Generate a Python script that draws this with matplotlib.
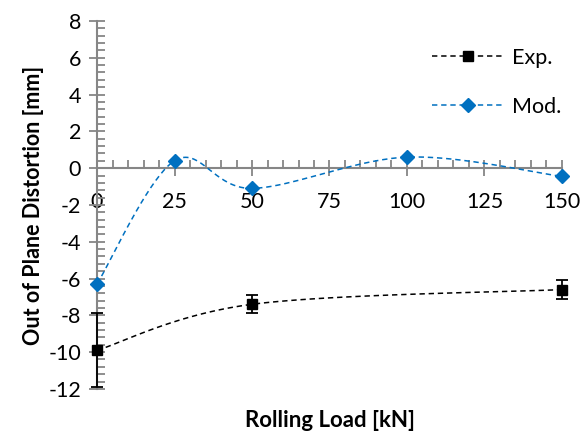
import numpy as np
import matplotlib
matplotlib.use('Agg')
import matplotlib.pyplot as plt
from matplotlib.ticker import MultipleLocator

plt.rcParams['font.family'] = ['Lato', 'DejaVu Sans']
plt.rcParams['axes.unicode_minus'] = False

# Measured and modelled out-of-plane distortion vs rolling load
exp_load = [0, 50, 150]
exp_dist = [-9.9, -7.4, -6.6]
exp_err = [2.0, 0.5, 0.5]

mod_load = [0, 25, 50, 100, 150]
mod_dist = [-6.3, 0.4, -1.1, 0.6, -0.45]

x_ticks = [0, 25, 50, 75, 100, 125, 150]
y_ticks = [-12, -10, -8, -6, -4, -2, 0, 2, 4, 6, 8]

axis_grey = '#868686'
blue = '#0070C0'


def smooth(xs, ys, n=40):
    # spreadsheet style smoothed line: cubic bezier with 1/6 tangent handles
    p = np.column_stack([xs, ys]).astype(float)
    p = np.vstack([p[0], p, p[-1]])
    out = []
    for i in range(1, len(p) - 2):
        p0, p1, p2, p3 = p[i - 1], p[i], p[i + 1], p[i + 2]
        c1 = p1 + (p2 - p0) / 6.0
        c2 = p2 - (p3 - p1) / 6.0
        t = np.linspace(0, 1, n)[:, None]
        seg = ((1 - t) ** 3) * p1 + 3 * ((1 - t) ** 2) * t * c1 \
            + 3 * (1 - t) * t ** 2 * c2 + t ** 3 * p2
        out.append(seg)
    out = np.vstack(out)
    return out[:, 0], out[:, 1]


fig = plt.figure(figsize=(5.82, 4.37), dpi=100)
ax = fig.add_axes([0.1667, 0.110, 0.7989, 0.842])

# smoothed dashed connectors
sx, sy = smooth(exp_load, exp_dist)
ax.plot(sx, sy, color='black', lw=1.1, dashes=(3.5, 2.5), zorder=3)
sx, sy = smooth(mod_load, mod_dist)
ax.plot(sx, sy, color=blue, lw=1.1, dashes=(3.5, 2.5), zorder=3)

ax.errorbar(exp_load, exp_dist, yerr=exp_err, fmt='none', ecolor='black',
            elinewidth=1.3, capsize=4, capthick=1.3, zorder=4, clip_on=False)
ax.plot(exp_load, exp_dist, 's', color='black', ms=7.5, zorder=5, clip_on=False)
ax.plot(mod_load, mod_dist, 'D', color=blue, ms=7, zorder=5, clip_on=False)

# legend handles
ax.plot([], [], color='black', lw=1.1, dashes=(3.5, 2.5), marker='s', ms=7.5,
        label='Exp.')
ax.plot([], [], color=blue, lw=1.1, dashes=(3.5, 2.5), marker='D', ms=7,
        label='Mod.')
leg = ax.legend(loc='upper right', bbox_to_anchor=(1.04, 0.98), frameon=False,
                fontsize=15.5, handlelength=3.3, labelspacing=1.35,
                handletextpad=0.4)

ax.set_xlim(0, 150)
ax.set_ylim(-12, 8)
ax.set_xticks(x_ticks)
ax.set_yticks(y_ticks)
ax.xaxis.set_minor_locator(MultipleLocator(5))
ax.yaxis.set_minor_locator(MultipleLocator(0.4))

ax.spines['top'].set_visible(False)
ax.spines['right'].set_visible(False)
ax.spines['bottom'].set_position(('data', 0))
for s in ('left', 'bottom'):
    ax.spines[s].set_color(axis_grey)
    ax.spines[s].set_linewidth(1.5)

ax.tick_params(axis='y', which='major', direction='inout', length=11,
               width=1.3, color=axis_grey, labelsize=15.5, pad=6)
ax.tick_params(axis='y', which='minor', direction='in', length=6,
               width=1.3, color=axis_grey)
ax.tick_params(axis='x', which='major', direction='inout', length=11,
               width=1.3, color=axis_grey, labelsize=15.5, pad=12)
ax.tick_params(axis='x', which='minor', direction='in', length=6,
               width=1.3, color=axis_grey)

ax.set_ylabel('Out of Plane Distortion [mm]', fontsize=15.5,
              fontweight='bold', labelpad=3)
fig.text(0.567, 0.038, 'Rolling Load [kN]', fontsize=16, fontweight='bold',
         ha='center', va='center')

fig.savefig('out.png', dpi=100)
